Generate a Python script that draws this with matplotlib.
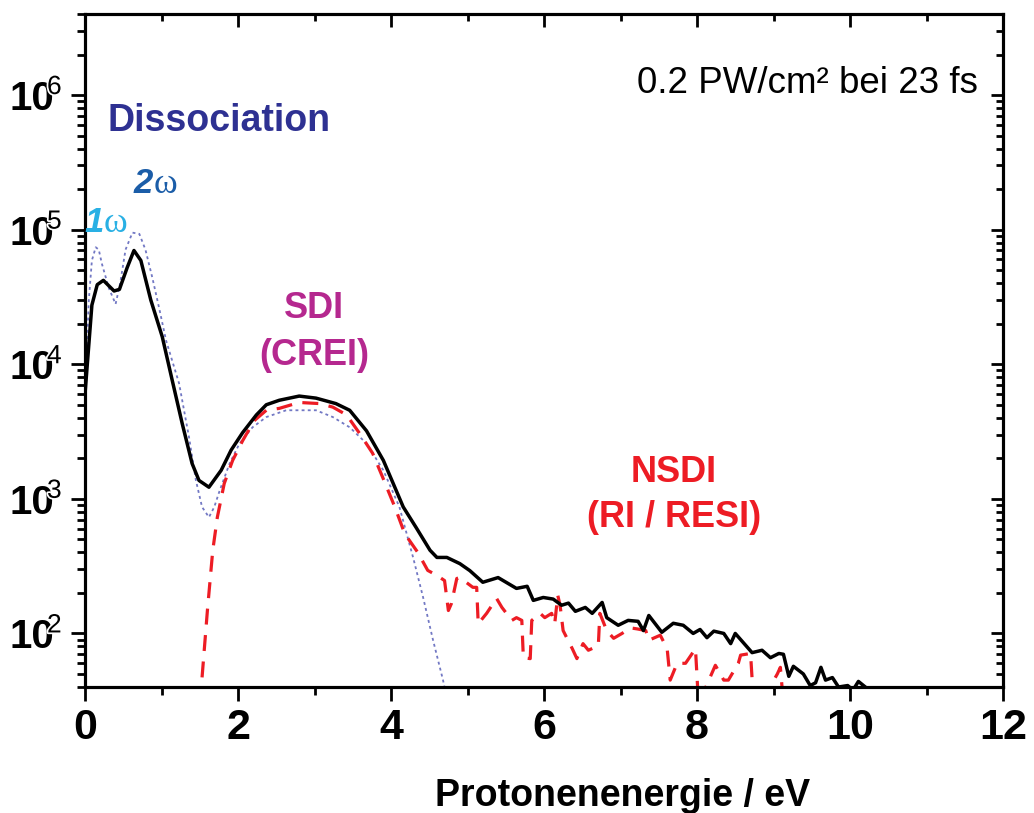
import numpy as np
import matplotlib
matplotlib.use("Agg")
import matplotlib.pyplot as plt
from matplotlib.ticker import LogLocator, NullFormatter, MultipleLocator
import matplotlib.patheffects as pe

plt.rcParams['font.family'] = ['Liberation Sans', 'DejaVu Sans']

# ---------------- data ----------------
x_total = [0.00, 0.09, 0.16, 0.24, 0.38, 0.45, 0.55, 0.64, 0.73, 0.86, 1.01, 1.14,
           1.27, 1.40, 1.49, 1.62, 1.78, 1.91, 2.06, 2.24, 2.37, 2.54, 2.80, 3.02,
           3.28, 3.46, 3.68, 3.90, 4.16, 4.33, 4.51, 4.60, 4.73, 4.90, 5.03, 5.20,
           5.40, 5.64, 5.78, 5.86, 5.99, 6.12, 6.23, 6.32, 6.41, 6.54, 6.63, 6.76,
           6.82, 6.97, 7.10, 7.23, 7.30, 7.37, 7.54, 7.69, 7.82, 7.95, 8.04, 8.13,
           8.22, 8.35, 8.44, 8.50, 8.72, 8.85, 8.96, 9.07, 9.13, 9.20, 9.26, 9.39,
           9.48, 9.55, 9.62, 9.68, 9.77, 9.85, 9.97, 10.04, 10.11, 10.20]
y_total = [6000, 27500, 39000, 42000, 35000, 36000, 52000, 70000, 59000, 30000, 16000, 7600,
           3640, 1830, 1370, 1220, 1630, 2300, 3100, 4200, 5000, 5400, 5800, 5600,
           5100, 4550, 3200, 1930, 870, 610, 415, 367, 367, 330, 293, 240,
           260, 216, 224, 176, 185, 180, 162, 168, 146, 156, 141, 170,
           131, 115, 125, 123, 105, 136, 102, 119, 115, 100, 107, 93,
           104, 100, 84, 100, 72, 75, 66, 71, 70, 48, 57, 50,
           41, 43, 56, 45, 47, 40, 41, 38, 44, 40]

x_nsdi = [1.50, 1.53, 1.60, 1.67, 1.73, 1.82, 1.93, 2.06, 2.21, 2.37, 2.54, 2.80,
          3.07, 3.24, 3.42, 3.59, 3.76, 3.89, 4.05, 4.18, 4.35, 4.48, 4.60, 4.70,
          4.75, 4.79, 4.86, 4.90, 5.07, 5.12, 5.14, 5.25, 5.38, 5.45, 5.58, 5.64,
          5.71, 5.73, 5.82, 5.84, 5.95, 6.01, 6.10, 6.14, 6.18, 6.21, 6.25, 6.37,
          6.43, 6.51, 6.58, 6.71, 6.73, 6.82, 6.91, 7.02, 7.13, 7.22, 7.33, 7.37,
          7.52, 7.61, 7.65, 7.74, 7.85, 7.98, 8.02, 8.24, 8.35, 8.41, 8.54, 8.57,
          8.70, 8.74, 8.83, 9.05, 9.09, 9.13]
y_nsdi = [30, 47, 148, 414, 730, 1300, 1930, 2700, 3800, 4550, 4700, 5200,
          5100, 4800, 4200, 3060, 2180, 1450, 870, 550, 400, 294, 270, 247,
          148, 167, 256, 260, 220, 220, 118, 141, 182, 156, 125, 131,
          125, 66, 65, 125, 141, 131, 141, 118, 192, 162, 105, 77,
          65, 84, 75, 81, 141, 105, 92, 100, 110, 108, 105, 89,
          97, 77, 45, 60, 60, 77, 30, 58, 45, 45, 60, 69,
          71, 30, 30, 50, 56, 30]

x_diss = [0.00, 0.05, 0.09, 0.14, 0.18, 0.22, 0.31, 0.40, 0.46, 0.53, 0.62, 0.71,
          0.79, 0.88, 0.97, 1.06, 1.23, 1.36, 1.45, 1.53, 1.62, 1.69, 1.76, 1.89,
          2.02, 2.19, 2.37, 2.63, 2.80, 3.02, 3.24, 3.46, 3.68, 3.90, 4.11, 4.29,
          4.42, 4.55, 4.68, 4.72]
y_diss = [5400, 30000, 59000, 74000, 71000, 56000, 37000, 28000, 40000, 71000, 95000, 93000,
          71000, 44000, 26000, 15000, 7200, 2860, 1370, 870, 730, 870, 1150, 1830,
          2580, 3400, 4050, 4550, 4550, 4550, 4050, 3400, 2580, 1630, 870, 365,
          185, 89, 45, 35]

xtick_values = [0, 2, 4, 6, 8, 10, 12]
xtick_labels = ['0', '2', '4', '6', '8', '10', '12']
ytick_exponents = [2, 3, 4, 5, 6]

# ---------------- figure ----------------
W, H = 1034, 813
fig = plt.figure(figsize=(W / 100, H / 100), dpi=100)
ax = fig.add_axes([85 / W, (H - 687) / H, 918 / W, 673 / H])


def fx(px):
    return px / W


def fy(py):
    return 1 - py / H


ax.plot(x_diss, y_diss, color='#7278c4', lw=1.3, ls=(0, (1.6, 1.8)), zorder=2)
ax.plot(x_nsdi, y_nsdi, color='#ED1C24', lw=2.3, ls=(0, (5, 3.3)), zorder=3)
ax.plot(x_total, y_total, color='black', lw=2.5, zorder=4)

ax.set_yscale('log')
ax.set_xlim(0, 12)
ax.set_ylim(40, 4e6)

ax.set_xticks(xtick_values)
ax.set_xticklabels(xtick_labels, fontsize=31, fontweight='bold')
ax.xaxis.set_minor_locator(MultipleLocator(1))
ax.yaxis.set_major_locator(LogLocator(base=10, numticks=20))
ax.yaxis.set_minor_locator(LogLocator(base=10, subs=np.arange(2, 10), numticks=20))
ax.yaxis.set_major_formatter(NullFormatter())
ax.yaxis.set_minor_formatter(NullFormatter())

ax.tick_params(which='both', direction='out', width=2.0, top=False, right=False)
ax.tick_params(which='major', length=10)
ax.tick_params(which='minor', length=5.5)
ax.tick_params(axis='x', pad=5)

for s in ax.spines.values():
    s.set_linewidth(2.2)

# right spine ticks pointing inward
axr = ax.twinx()
axr.set_yscale('log')
axr.set_ylim(ax.get_ylim())
axr.yaxis.set_major_locator(LogLocator(base=10, numticks=20))
axr.yaxis.set_minor_locator(LogLocator(base=10, subs=np.arange(2, 10), numticks=20))
axr.tick_params(which='both', direction='in', width=2.0, labelright=False)
axr.tick_params(which='major', length=9)
axr.tick_params(which='minor', length=5)
for s in axr.spines.values():
    s.set_linewidth(2.2)

# top spine ticks pointing inward
axt = ax.twiny()
axt.set_xlim(ax.get_xlim())
axt.xaxis.set_major_locator(MultipleLocator(2))
axt.xaxis.set_minor_locator(MultipleLocator(1))
axt.tick_params(which='both', direction='in', width=2.0, labeltop=False)
axt.tick_params(which='major', length=9)
axt.tick_params(which='minor', length=5)
for s in axt.spines.values():
    s.set_linewidth(2.2)

# y tick labels "10^n" drawn as text
for e in ytick_exponents:
    ax.annotate('10', xy=(0, 10.0 ** e), xycoords=('axes fraction', 'data'),
                xytext=(-75 * 0.72, -15 * 0.72), textcoords='offset points',
                ha='left', va='baseline', fontsize=29, fontweight='bold',
                annotation_clip=False)
    ax.annotate(str(e), xy=(0, 10.0 ** e), xycoords=('axes fraction', 'data'),
                xytext=(-38 * 0.72, 1 * 0.72), textcoords='offset points',
                ha='left', va='baseline', fontsize=19,
                path_effects=[pe.withStroke(linewidth=2.5, foreground='white')],
                annotation_clip=False)

# texts
fig.text(fx(978), fy(93), '0.2 PW/cm\u00b2 bei 23 fs', ha='right', va='baseline',
         fontsize=26.5, color='black')
fig.text(fx(107), fy(131), 'Dissociation', ha='left', va='baseline',
         fontsize=27, fontweight='bold', color='#2E3192')
fig.text(fx(134), fy(193), '2', ha='left', va='baseline', fontsize=25,
         fontweight='bold', fontstyle='italic', color='#1B5DA8')
fig.text(fx(154), fy(193), '\u03c9', ha='left', va='baseline', fontsize=26,
         family=['Liberation Serif', 'DejaVu Serif'], color='#1B5DA8')
fig.text(fx(84), fy(232), '1', ha='left', va='baseline', fontsize=25,
         fontweight='bold', fontstyle='italic', color='#29B0E4')
fig.text(fx(104), fy(232), '\u03c9', ha='left', va='baseline', fontsize=26,
         family=['Liberation Serif', 'DejaVu Serif'], color='#29B0E4')
fig.text(fx(314), fy(318), 'SDI', ha='center', va='baseline', fontsize=26,
         fontweight='bold', color='#B5288F')
fig.text(fx(314), fy(365), '(CREI)', ha='center', va='baseline', fontsize=26,
         fontweight='bold', color='#B5288F')
fig.text(fx(674), fy(482), 'NSDI', ha='center', va='baseline', fontsize=26,
         fontweight='bold', color='#ED1C24')
fig.text(fx(674), fy(527), '(RI / RESI)', ha='center', va='baseline', fontsize=26,
         fontweight='bold', color='#ED1C24')

fig.text(fx(623), fy(806), 'Protonenenergie / eV', ha='center', va='baseline',
         fontsize=27, fontweight='bold', color='black')

fig.savefig('out.png', dpi=100)
